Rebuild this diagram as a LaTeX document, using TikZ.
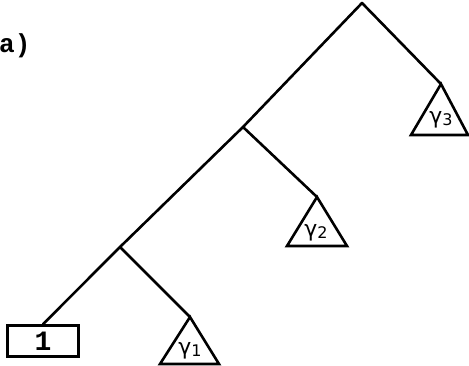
\documentclass[tikz,border=0pt]{standalone}
\usepackage{fontspec}
\newfontfamily\monof{Liberation Mono}
\newfontfamily\gsans{DejaVu Sans}
\begin{document}
\begin{tikzpicture}[x=1pt,y=-1pt,
  edge/.style={line width=2.6pt, line cap=round, line join=round},
  tri/.style={line width=2.6pt, line join=miter},
  glab/.style={font=\gsans\fontsize{22}{22}\selectfont, inner sep=0pt},
  leafbox/.style={draw, line width=2.6pt, minimum width=71pt, minimum height=31pt, inner sep=0pt, font=\monof\bfseries\fontsize{28}{28}\selectfont}]
\useasboundingbox (0,0) rectangle (469,365);
\node[anchor=west, inner sep=0pt, font=\monof\bfseries\fontsize{26}{26}\selectfont] (lab) at (-1,46) {a)};
\coordinate (root) at (362,3);
\coordinate (n2) at (243,127);
\coordinate (n1) at (120,247);
\node[leafbox] (box) at (43,341) {1};
\coordinate (a3) at (441,84);
\coordinate (a2) at (317,197);
\coordinate (a1) at (190,317);
\draw[edge] (a3) -- (root) -- (n2) -- (n1) -- (box.north);
\draw[edge] (n2) -- (a2);
\draw[edge] (n1) -- (a1);
\draw[tri] (a3) -- (411,135) -- (468,135) -- cycle;
\draw[tri] (a2) -- (287,246) -- (347,246) -- cycle;
\draw[tri] (a1) -- (160,364) -- (219,364) -- cycle;
\node[glab] (g3) at (441,120) {γ\raisebox{-2pt}{\fontsize{16}{16}\selectfont 3}};
\node[glab] (g2) at (316,233) {γ\raisebox{-2pt}{\fontsize{16}{16}\selectfont 2}};
\node[glab] (g1) at (190,351) {γ\raisebox{-2pt}{\fontsize{16}{16}\selectfont 1}};
\end{tikzpicture}
\end{document}
